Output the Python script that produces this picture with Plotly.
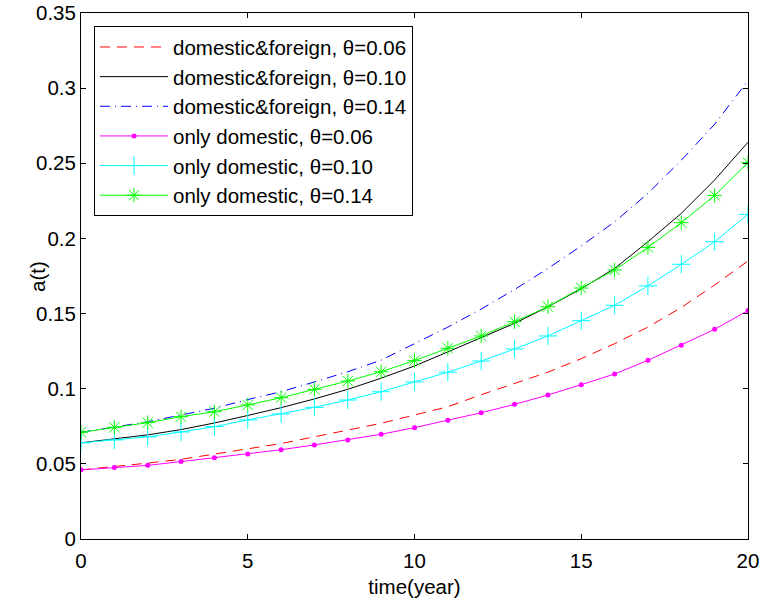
import plotly.graph_objects as go

t = list(range(21))

df_006 = [0.046, 0.048, 0.0505, 0.053, 0.0565, 0.060, 0.0635, 0.068, 0.0725, 0.077,
          0.0825, 0.088, 0.096, 0.1035, 0.111, 0.120, 0.130, 0.141, 0.154, 0.169, 0.185]
df_010 = [0.064, 0.0665, 0.0693, 0.0728, 0.0772, 0.0822, 0.0874, 0.0932, 0.0996, 0.107,
          0.1151, 0.1245, 0.1338, 0.1435, 0.1545, 0.1665, 0.180, 0.1978, 0.2167, 0.2389, 0.264]
df_014 = [0.071, 0.0745, 0.078, 0.0825, 0.087, 0.0928, 0.098, 0.1045, 0.1113, 0.119,
          0.130, 0.141, 0.153, 0.166, 0.180, 0.195, 0.211, 0.230, 0.252, 0.276, 0.305]
od_006 = [0.046, 0.0475, 0.049, 0.0515, 0.054, 0.0566, 0.0594, 0.0626, 0.0659, 0.0697,
          0.0741, 0.079, 0.084, 0.0896, 0.0958, 0.1027, 0.1098, 0.1189, 0.129, 0.1395, 0.152]
od_010 = [0.064, 0.0659, 0.068, 0.0712, 0.0748, 0.0792, 0.0832, 0.0876, 0.0925, 0.098,
          0.1045, 0.111, 0.1184, 0.1264, 0.1351, 0.1453, 0.1555, 0.1684, 0.1828, 0.1978, 0.216]
od_014 = [0.071, 0.0743, 0.0774, 0.0814, 0.0847, 0.0892, 0.094, 0.0996, 0.1051, 0.1113,
          0.1187, 0.1269, 0.1351, 0.1446, 0.1546, 0.1670, 0.179, 0.194, 0.2105, 0.2286, 0.2504]

names = ["domestic&foreign, θ=0.06", "domestic&foreign, θ=0.10", "domestic&foreign, θ=0.14",
         "only domestic, θ=0.06", "only domestic, θ=0.10", "only domestic, θ=0.14"]
x_ticks = [0, 5, 10, 15, 20]
y_ticks = [0, 0.05, 0.1, 0.15, 0.2, 0.25, 0.3, 0.35]
y_ticklabels = ["0", "0.05", "0.1", "0.15", "0.2", "0.25", "0.3", "0.35"]

FONT = "Liberation Sans, Arial, Helvetica, sans-serif"
FS = 20.5

fig = go.Figure()
fig.add_trace(go.Scatter(x=t, y=df_006, name=names[0], mode="lines",
                         line=dict(color="#ff0000", width=1, dash="10px,7px"), legendgroup="a"))
fig.add_trace(go.Scatter(x=t, y=df_010, name=names[1], mode="lines",
                         line=dict(color="#000000", width=1), legendgroup="b"))
fig.add_trace(go.Scatter(x=t, y=df_014, name=names[2], mode="lines",
                         line=dict(color="#0000ff", width=1, dash="10px,5px,1px,5px"), legendgroup="c"))
fig.add_trace(go.Scatter(x=t, y=od_006, name=names[3], mode="lines+markers",
                         line=dict(color="#ff00ff", width=1),
                         marker=dict(symbol="circle", size=5, color="#ff00ff"), legendgroup="d"))
fig.add_trace(go.Scatter(x=t, y=od_010, name=names[4], mode="lines+markers",
                         line=dict(color="#00ffff", width=1),
                         marker=dict(symbol="cross-thin-open", size=13, line=dict(color="#00ffff", width=1)),
                         legendgroup="e"))
fig.add_trace(go.Scatter(x=t, y=od_014, name=names[5], mode="lines+markers",
                         line=dict(color="#00ff00", width=1),
                         marker=dict(symbol="asterisk-open", size=12, line=dict(color="#00ff00", width=1)),
                         legendgroup="f"))

axis_common = dict(showgrid=False, zeroline=False, showline=True, linecolor="black", linewidth=1,
                   mirror="ticks", ticks="inside", ticklen=5, tickcolor="black", automargin=False,
                   tickfont=dict(family=FONT, size=FS, color="black"))

fig.update_xaxes(range=[0, 20], tickvals=x_ticks, ticklabelstandoff=3,
                 title=dict(text="time(year)", font=dict(family=FONT, size=FS, color="black"), standoff=10),
                 **axis_common)
fig.update_yaxes(range=[0, 0.35], tickvals=y_ticks, ticktext=y_ticklabels,
                 **axis_common)

fig.add_annotation(text="a(t)", xref="paper", yref="paper", x=-0.066, y=0.5,
                   xanchor="center", yanchor="middle", textangle=-90, showarrow=False,
                   font=dict(family=FONT, size=FS, color="black"))

fig.update_layout(
    width=762, height=598,
    margin=dict(l=81, r=14, t=13, b=59),
    paper_bgcolor="white", plot_bgcolor="white",
    font=dict(family=FONT, size=FS, color="black"),
    legend=dict(x=0.0195, y=0.975, xanchor="left", yanchor="top",
                bgcolor="white", bordercolor="black", borderwidth=1,
                traceorder="grouped", tracegroupgap=0, itemwidth=68,
                font=dict(family=FONT, size=FS, color="black")),
)

fig.write_html("out.html")
